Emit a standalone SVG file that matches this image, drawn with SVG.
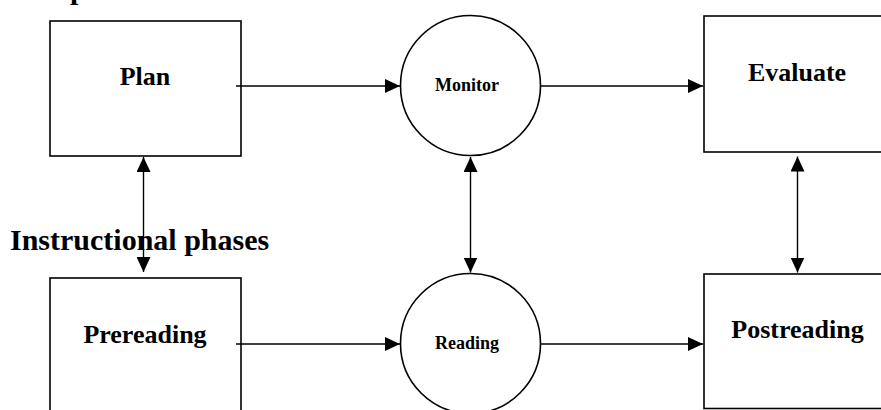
<svg xmlns="http://www.w3.org/2000/svg" width="881" height="410" viewBox="0 0 881 410">
  <style>
    .box { fill: #ffffff; stroke: #000000; stroke-width: 1.6; }
    .lbl { font-family: "Liberation Serif", "Times New Roman", serif; font-weight: bold; fill: #000000; text-anchor: middle; }
    .big { font-size: 26px; }
    .small { font-size: 18px; }
    .title { font-family: "Liberation Serif", "Times New Roman", serif; font-weight: bold; font-size: 30px; fill: #000000; }
    .conn { stroke: #000000; stroke-width: 1.4; fill: none; }
  </style>
  <defs>
    <marker id="arrow" viewBox="0 0 15 14" refX="15" refY="7" markerWidth="15" markerHeight="14" markerUnits="userSpaceOnUse" orient="auto-start-reverse">
      <path d="M0,0 L15,7 L0,14 z" fill="#000000"/>
    </marker>
  </defs>
  <rect width="881" height="410" fill="#ffffff"/>

  <text class="title" x="70" y="-1.5">p</text>

  <g id="plan">
    <rect class="box" x="50" y="21" width="191" height="135"/>
    <text class="lbl big" x="145" y="85">Plan</text>
  </g>
  <g id="monitor">
    <circle class="box" cx="470.5" cy="85.5" r="70"/>
    <text class="lbl small" x="467" y="91">Monitor</text>
  </g>
  <g id="evaluate">
    <rect class="box" x="704" y="16" width="186" height="136"/>
    <text class="lbl big" x="797" y="81">Evaluate</text>
  </g>
  <g id="prereading">
    <rect class="box" x="50" y="278" width="191" height="140"/>
    <text class="lbl big" x="145" y="343">Prereading</text>
  </g>
  <g id="reading">
    <circle class="box" cx="470.5" cy="343.5" r="70"/>
    <text class="lbl small" x="467" y="349">Reading</text>
  </g>
  <g id="postreading">
    <rect class="box" x="704" y="274" width="186" height="134.5"/>
    <text class="lbl big" x="797.5" y="338">Postreading</text>
  </g>

  <g id="instructional-phases">
    <text class="title" x="10" y="250">Instructional phases</text>
  </g>

  <g id="connectors">
    <line class="conn" x1="236" y1="86" x2="400" y2="86" marker-end="url(#arrow)"/>
    <line class="conn" x1="541" y1="86" x2="703" y2="86" marker-end="url(#arrow)"/>
    <line class="conn" x1="236" y1="344" x2="400" y2="344" marker-end="url(#arrow)"/>
    <line class="conn" x1="541" y1="344" x2="703" y2="344" marker-end="url(#arrow)"/>
    <line class="conn" x1="143.5" y1="157" x2="143.5" y2="272" marker-start="url(#arrow)" marker-end="url(#arrow)"/>
    <line class="conn" x1="470.5" y1="157" x2="470.5" y2="272.5" marker-start="url(#arrow)" marker-end="url(#arrow)"/>
    <line class="conn" x1="797.5" y1="156.5" x2="797.5" y2="272.5" marker-start="url(#arrow)" marker-end="url(#arrow)"/>
  </g>
</svg>
